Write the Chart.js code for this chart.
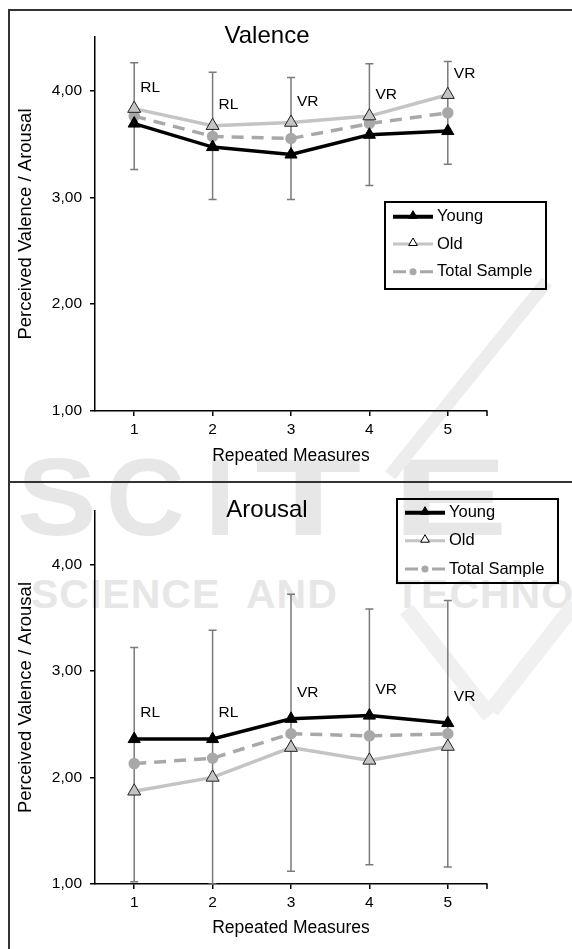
<!DOCTYPE html>
<html>
<head>
<meta charset="utf-8">
<script src="https://cdn.jsdelivr.net/npm/chart.js@4.4.1/dist/chart.umd.min.js"></script>
<style>
body{margin:0;background:#fff;width:572px;height:949px;overflow:hidden;position:relative;font-family:"Liberation Sans",Arial,sans-serif}
.wm{position:absolute;color:#e7e7e7;white-space:nowrap;line-height:1;z-index:0;font-weight:bold}
.big{font-size:109px;top:443px}
.small{font-size:41px;top:574px;letter-spacing:1px}
.bar{position:absolute;background:#ededed;z-index:0}
canvas{position:absolute;left:0;z-index:1}
.frame{position:absolute;background:#333;z-index:2}
</style>
</head>
<body>
<!-- faint publisher watermark behind the charts -->
<div class="wm big" style="left:17px;transform:scaleX(1.1);transform-origin:left top">S</div>
<div class="wm big" style="left:106px">C</div>
<div class="wm big" style="left:205px">I</div>
<div class="wm big" style="left:255px;transform:scaleX(1.6);transform-origin:left top">T</div>
<div class="wm big" style="left:392px;transform:scaleX(1.6);transform-origin:left top">E</div>
<div class="wm small" style="left:31px">SCIENCE</div>
<div class="wm small" style="left:246px">AND</div>
<div class="wm small" style="left:395px">TECHNOLOGY</div>
<div class="bar" style="left:462px;top:254px;width:13px;height:249px;transform:rotate(39deg)"></div>
<div class="bar" style="left:440px;top:595px;width:16px;height:135px;background:#f0f0f0;transform:rotate(-38deg)"></div>
<div class="bar" style="left:525px;top:590px;width:16px;height:135px;background:#f0f0f0;transform:rotate(38deg)"></div>

<canvas id="valence" width="572" height="481" style="top:0"></canvas>
<canvas id="arousal" width="572" height="468" style="top:481px"></canvas>

<div class="frame" style="left:8px;top:9px;width:564px;height:2px"></div>
<div class="frame" style="left:8px;top:9px;width:1.5px;height:940px"></div>
<div class="frame" style="left:8px;top:481px;width:564px;height:2px"></div>

<script>
var measures = ['1', '2', '3', '4', '5'];
var yTicks = [1, 2, 3, 4];
var conditions = ['RL', 'RL', 'VR', 'VR', 'VR'];

var valenceYoung = [3.69, 3.47, 3.40, 3.585, 3.62];
var valenceOld = [3.83, 3.67, 3.70, 3.76, 3.96];
var valenceTotal = [3.76, 3.57, 3.55, 3.69, 3.79];
var valenceLow = [3.26, 2.98, 2.98, 3.11, 3.31];
var valenceHigh = [4.26, 4.17, 4.12, 4.25, 4.27];

var arousalYoung = [2.36, 2.36, 2.55, 2.58, 2.51];
var arousalOld = [1.87, 2.00, 2.28, 2.16, 2.29];
var arousalTotal = [2.13, 2.18, 2.41, 2.39, 2.41];
var arousalLow = [1.02, 1.00, 1.12, 1.18, 1.16];
var arousalHigh = [3.22, 3.38, 3.72, 3.58, 3.66];

var fam = "'Liberation Sans', Arial, sans-serif";

function triangle(ctx, x, y, r) {
	ctx.beginPath();
	ctx.moveTo(x, y - r);
	ctx.lineTo(x + r * 0.866, y + r * 0.5);
	ctx.lineTo(x - r * 0.866, y + r * 0.5);
	ctx.closePath();
}

// error bars behind the lines
function errorBars(low, high) {
	return {
		id: 'errorBars',
		beforeDatasetsDraw: function(chart) {
			var ctx = chart.ctx, x = chart.scales.x, y = chart.scales.y;
			ctx.save();
			ctx.strokeStyle = '#7a7a7a';
			ctx.lineWidth = 1.5;
			low.forEach(function(lo, i) {
				var px = x.getPixelForValue(i);
				var y1 = y.getPixelForValue(lo), y2 = y.getPixelForValue(high[i]);
				ctx.beginPath();
				ctx.moveTo(px, y1); ctx.lineTo(px, y2);
				ctx.moveTo(px - 4, y1); ctx.lineTo(px + 4, y1);
				ctx.moveTo(px - 4, y2); ctx.lineTo(px + 4, y2);
				ctx.stroke();
			});
			// closing tick at the right end of the x axis
			ctx.strokeStyle = '#000';
			ctx.beginPath();
			ctx.moveTo(chart.chartArea.right, chart.chartArea.bottom);
			ctx.lineTo(chart.chartArea.right, chart.chartArea.bottom + 5);
			ctx.stroke();
			ctx.restore();
		}
	};
}

// title, RL/VR labels and the boxed legend
function extras(title, titleY, labelLift, box) {
	return {
		id: 'extras',
		afterDatasetsDraw: function(chart) {
			var ctx = chart.ctx, x = chart.scales.x, y = chart.scales.y;
			var ds = chart.data.datasets;
			ctx.save();
			ctx.fillStyle = '#000';
			ctx.textBaseline = 'middle';
			ctx.textAlign = 'center';
			ctx.font = '24px ' + fam;
			ctx.fillText(title, 267, titleY);

			ctx.textAlign = 'left';
			ctx.font = '15.5px ' + fam;
			conditions.forEach(function(c, i) {
				var top = Math.max(ds[0].data[i], ds[1].data[i], ds[2].data[i]);
				ctx.fillText(c, x.getPixelForValue(i) + 6, y.getPixelForValue(top) - labelLift);
			});

			ctx.lineWidth = 2;
			ctx.strokeStyle = '#000';
			ctx.strokeRect(box.x, box.y, box.w, box.h);
			ds.forEach(function(d, i) {
				var ry = box.rows[i], lx = box.lx;
				ctx.beginPath();
				ctx.setLineDash(d.borderDash ? [13, 14] : []);
				ctx.lineWidth = i == 0 ? 4 : 3;
				ctx.strokeStyle = d.borderColor;
				ctx.moveTo(lx, ry); ctx.lineTo(lx + 40, ry);
				ctx.stroke();
				ctx.setLineDash([]);
				if (d.pointStyle == 'triangle') {
					triangle(ctx, lx + 20, ry - 1, 5);
					ctx.fillStyle = i == 0 ? '#000' : '#fff';
					ctx.fill();
					ctx.lineWidth = 1;
					ctx.strokeStyle = '#000';
					ctx.stroke();
				} else {
					ctx.beginPath();
					ctx.arc(lx + 20, ry, 3.5, 0, Math.PI * 2);
					ctx.fillStyle = d.borderColor;
					ctx.fill();
				}
				ctx.fillStyle = '#000';
				ctx.font = '16.5px ' + fam;
				ctx.fillText(d.label, lx + 44, ry);
			});
			ctx.restore();
		}
	};
}

function setChart(id, young, old, total, low, high, o) {
	new Chart(document.getElementById(id), {
		type: 'line',
		data: {
			labels: measures,
			datasets: [{
				label: 'Young',
				data: young,
				borderColor: '#000',
				borderWidth: 3.5,
				pointStyle: 'triangle',
				pointRadius: 7,
				pointBackgroundColor: '#000',
				pointBorderColor: '#000',
				pointBorderWidth: 1
			}, {
				label: 'Old',
				data: old,
				borderColor: '#c4c4c4',
				borderWidth: 3.5,
				pointStyle: 'triangle',
				pointRadius: 7.5,
				pointBackgroundColor: '#c4c4c4',
				pointBorderColor: '#222',
				pointBorderWidth: 1
			}, {
				label: 'Total Sample',
				data: total,
				borderColor: '#a8a8a8',
				borderDash: [12, 8],
				borderWidth: 3.5,
				pointStyle: 'circle',
				pointRadius: 4,
				pointBackgroundColor: '#a8a8a8',
				pointBorderColor: '#a8a8a8'
			}]
		},
		options: {
			responsive: false,
			animation: false,
			events: [],
			layout: { padding: { left: 0, right: 85, top: o.padTop, bottom: 10 } },
			plugins: { legend: { display: false }, tooltip: { enabled: false } },
			scales: {
				x: {
					offset: true,
					grid: { drawOnChartArea: false, tickLength: 5, color: '#000', lineWidth: 1.5, offset: false },
					border: { color: '#000', width: 1.5 },
					ticks: { color: '#000', font: { family: fam, size: 15.5 }, padding: 4, maxRotation: 0 },
					title: { display: true, text: 'Repeated Measures', color: '#000',
						font: { family: fam, size: 17.5, lineHeight: 1.2 }, padding: { top: 0, bottom: o.xTitlePad } },
					afterFit: function(s) { s.height = o.xHeight; }
				},
				y: {
					min: 1,
					max: 4.5,
					afterBuildTicks: function(s) { s.ticks = yTicks.map(function(v) { return { value: v }; }); },
					grid: { drawOnChartArea: false, tickLength: 5, color: '#000', lineWidth: 1.5 },
					border: { color: '#000', width: 1.5 },
					ticks: { color: '#000', font: { family: fam, size: 15.5 }, padding: 8,
						callback: function(v) { return v.toFixed(2).replace('.', ','); } },
					title: { display: true, text: 'Perceived Valence / Arousal', color: '#000',
						font: { family: fam, size: 18.5, lineHeight: 1.2 }, padding: { top: 15, bottom: 0 } },
					afterFit: function(s) { s.width = 95; }
				}
			}
		},
		plugins: [errorBars(low, high), extras(o.title, o.titleY, o.labelLift, o.box)]
	});
}

setChart('valence', valenceYoung, valenceOld, valenceTotal, valenceLow, valenceHigh, {
	title: 'Valence', titleY: 36, labelLift: 21, padTop: 37, xHeight: 60, xTitlePad: 4.5,
	box: { x: 385, y: 202, w: 161, h: 87, lx: 393, rows: [216.7, 244, 271.7] }
});
setChart('arousal', arousalYoung, arousalOld, arousalTotal, arousalLow, arousalHigh, {
	title: 'Arousal', titleY: 29, labelLift: 26, padTop: 30, xHeight: 55, xTitlePad: 0.5,
	box: { x: 397, y: 18, w: 161, h: 84, lx: 405, rows: [31.7, 59.7, 88] }
});
</script>
</body>
</html>
